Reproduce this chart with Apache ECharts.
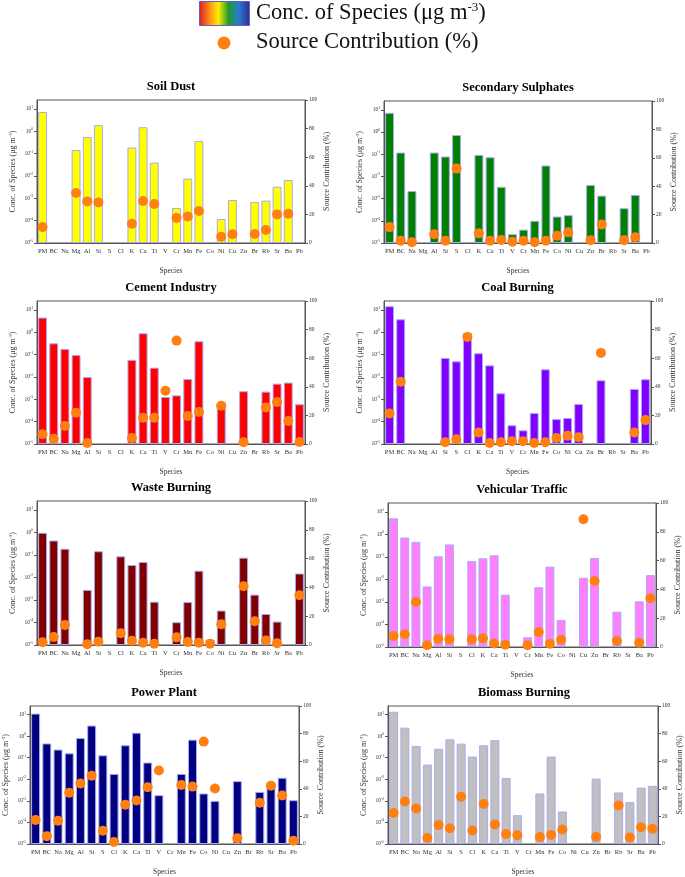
<!DOCTYPE html>
<html>
<head>
<meta charset="utf-8">
<script src="https://cdn.jsdelivr.net/npm/echarts@6/dist/echarts.min.js"></script>
<style>html,body{margin:0;padding:0;background:#fff}#main{width:685px;height:877px}</style>
</head>
<body>
<div id="main"></div>
<script>
// ==================== DATA ====================
const species=['PM','BC','Na','Mg','Al','Si','S','Cl','K','Ca','Ti','V','Cr','Mn','Fe','Co','Ni','Cu','Zn','Br','Rb','Sr','Ba','Pb'];
const sources=['Soil Dust','Secondary Sulphates','Cement Industry','Coal Burning','Waste Burning','Vehicular Traffic','Power Plant','Biomass Burning'];

// concentrations (ug m-3), null = not present
const soilConc=[7.3,null,null,0.146,0.557,1.86,null,null,0.186,1.51,0.0396,null,3.7e-4,7.6e-3,0.369,null,1.19e-4,8.4e-4,null,6.9e-4,7.9e-4,3.3e-3,6.6e-3,null];
const sulConc=[7.3,0.119,2.2e-3,null,0.119,0.0787,0.734,null,0.093,0.073,3.4e-3,2.5e-5,4e-5,1e-4,0.031,1.56e-4,1.8e-4,null,4.1e-3,1.36e-3,null,3.7e-4,1.46e-3,null];
const cemConc=[4.54,0.32,0.18,0.097,0.01,null,null,null,0.058,0.9,0.026,1.27e-3,1.5e-3,8.1e-3,0.395,null,6.6e-4,null,2.3e-3,null,2.2e-3,5e-3,5.6e-3,6e-4];
const coalConc=[14.6,3.8,null,null,null,0.071,0.05,0.93,0.115,0.033,1.86e-3,6.9e-5,4.1e-5,2.44e-4,0.022,1.3e-4,1.46e-4,6.2e-4,null,7.1e-3,null,null,2.9e-3,7.9e-3];
const wasteConc=[0.97,0.44,0.19,null,2.8e-3,0.146,null,0.087,0.036,0.049,8.4e-4,null,1.03e-4,8.1e-4,0.02,1.73e-5,3.4e-4,null,0.076,1.73e-3,2.4e-4,1.1e-4,null,0.015];
const vehConc=[5.2,0.73,0.47,4.9e-3,0.107,0.36,null,0.066,0.087,0.119,2.1e-3,null,2.7e-5,4.5e-3,0.037,1.6e-4,null,0.0119,0.09,null,3.7e-4,null,1.07e-3,0.0156];
const powConc=[11.1,0.46,0.24,0.16,0.82,3.1,0.129,0.0178,0.378,1.45,0.06,1.83e-3,null,0.0178,0.69,2.2e-3,1e-3,null,8.2e-3,null,2.6e-3,6.9e-3,0.0118,1.07e-3];
const bioConc=[13.5,2.47,0.354,0.048,0.262,0.71,0.45,0.113,0.378,0.65,0.0115,2.16e-4,null,2.2e-3,0.113,3.2e-4,null,null,0.0107,null,2.45e-3,8.7e-4,4.1e-3,5e-3];

// source contribution (%)
const soilPct=[11.2,null,null,35,29.1,28.4,null,null,13.5,29.4,27.3,null,17.5,18.6,22.4,null,4.4,6.1,null,6.3,9.1,20,20.5,null];
const sulPct=[11.2,1.6,0.5,null,6.1,1.6,52.4,null,6.8,1.6,2.1,0.9,1.6,0.5,1.6,5.1,7.5,null,1.9,13,null,1.9,4,null];
const cemPct=[6.8,3.7,12.6,21.9,0.7,null,null,null,4.2,18.4,18.4,37.3,72.3,19.6,22.4,null,26.8,null,1.2,null,25.6,29.4,16.1,1.4];
const coalPct=[21.4,43.5,null,null,null,1.2,3.3,74.9,8.1,0.7,1.2,1.9,1.9,0.7,1.2,4.2,5.8,4.7,null,63.7,null,null,8.1,16.7];
const wastePct=[1.9,5.6,13.9,null,0.5,2.3,null,8.1,3,1.6,0.9,null,5.3,2.1,1.6,0.9,14.4,null,40.8,16.5,3.2,1.2,null,34.6];
const vehPct=[7.6,8.8,31.3,1.2,5.8,5.3,null,5.3,6,2.5,1.6,null,1.2,10.4,2.3,5.1,null,88.7,45.8,null,4.2,null,3,33.8];
const powPct=[17.4,5.7,16.9,37.2,43.8,49.5,9.6,1.4,28.5,31.5,41.1,53.2,null,42.7,41.6,74.2,40.2,null,4.1,null,29.9,42.2,35.2,2.3];
const bioPct=[22.4,30.8,25.8,4.3,13.7,11.4,34.2,9.8,29,14.2,7.3,6.4,null,5,6.6,10.5,null,null,5.3,null,27.9,4.8,12.1,11];

const concs=[soilConc,sulConc,cemConc,coalConc,wasteConc,vehConc,powConc,bioConc];
const pcts=[soilPct,sulPct,cemPct,coalPct,wastePct,vehPct,powPct,bioPct];
const barColors=['#ffff00','#008000','#ff0000','#8000ff','#800000','#ff80ff','#000080','#c0c0c0'];

// ==================== LAYOUT ====================
const grids=[
  {left:37,top:100,width:268,height:143},{left:384,top:101,width:268,height:142},
  {left:37,top:301,width:268,height:143},{left:384,top:301,width:267,height:143},
  {left:37,top:501,width:268,height:144},{left:388,top:503,width:268,height:144},
  {left:29,top:706,width:270,height:146},{left:388,top:706,width:272,height:146},
];
const serif='"Liberation Serif","Times New Roman",serif';
const axC='#555', txtC='#333', dotC='#ff8010', edgeC='#aaaaee';

const logFmt=v=>{const l=Math.log10(v), e=Math.round(l); if(Math.abs(l-e)>0.01) return ''; return '10{s|'+e+'}';};

const option={backgroundColor:'#fff',animation:false,title:[],grid:[],xAxis:[],yAxis:[],series:[]};

sources.forEach((name,i)=>{
  const g=grids[i];
  option.grid.push({left:g.left,top:g.top,width:g.width,height:g.height,show:true,borderColor:axC,borderWidth:1});
  option.title.push({text:name,left:g.left+g.width/2,top:g.top-20,textAlign:'center',padding:0,
    textStyle:{fontFamily:serif,fontWeight:'bold',fontSize:12.5,color:'#000'}});
  option.xAxis.push({type:'category',gridIndex:i,data:species,name:'Species',nameLocation:'middle',nameGap:24,
    nameTextStyle:{fontFamily:serif,fontSize:7.5,color:txtC},
    axisLine:{lineStyle:{color:axC}},axisTick:{length:3,lineStyle:{color:axC}},
    axisLabel:{interval:0,fontFamily:serif,fontSize:6.5,color:txtC,margin:5},splitLine:{show:false}});
  option.yAxis.push({type:'log',gridIndex:i,logBase:10,min:1e-5,max:25,interval:1,startValue:1e-5,
    name:'Conc. of Species (μg m{s|-3})',nameLocation:'middle',nameGap:19,
    nameTextStyle:{fontFamily:serif,fontSize:8,color:txtC,rich:{s:{fontFamily:serif,fontSize:5,verticalAlign:'top',padding:[0,0,5,0],color:txtC}}},
    axisLine:{show:true,lineStyle:{color:axC}},axisTick:{show:true,length:3,lineStyle:{color:axC}},
    axisLabel:{formatter:logFmt,showMaxLabel:false,fontFamily:serif,fontSize:5.5,color:txtC,margin:4,
      rich:{s:{fontFamily:serif,fontSize:3.5,verticalAlign:'top',padding:[0,0,4,0],color:txtC}}},
    splitLine:{show:false}});
  option.yAxis.push({type:'value',gridIndex:i,position:'right',min:0,max:100,interval:20,
    name:'Source Contribution (%)',nameLocation:'middle',nameGap:18,
    nameTextStyle:{fontFamily:serif,fontSize:8,color:txtC},
    axisLine:{show:true,lineStyle:{color:axC}},axisTick:{show:true,length:3,lineStyle:{color:axC}},
    axisLabel:{fontFamily:serif,fontSize:5.5,color:txtC,margin:4},splitLine:{show:false}});
  option.series.push({name:'Conc. of Species',type:'bar',xAxisIndex:i,yAxisIndex:2*i,data:concs[i],
    barCategoryGap:'20%',itemStyle:{color:barColors[i],borderColor:edgeC,borderWidth:1}});
  option.series.push({name:'Source Contribution (%)',type:'scatter',xAxisIndex:i,yAxisIndex:2*i+1,data:pcts[i],
    symbolSize:10,z:5,itemStyle:{color:dotC,opacity:1}});
});

// legend drawn as graphic (gradient swatch + dot)
option.graphic=[
  {type:'rect',left:199,top:1,shape:{width:50,height:24},style:{stroke:'#6a5acd',lineWidth:1,
    fill:new echarts.graphic.LinearGradient(0,0,1,0,[
      {offset:0,color:'#d81e1e'},{offset:0.2,color:'#ff8a1a'},{offset:0.38,color:'#ffee00'},
      {offset:0.58,color:'#1e9a2a'},{offset:0.78,color:'#2a7ad0'},{offset:1,color:'#2e2a8a'}])}},
  {type:'circle',shape:{cx:224,cy:43,r:6.5},style:{fill:dotC}},
  {type:'text',left:256,top:1,style:{text:'Conc. of Species (μg m{s|-3})',fontFamily:serif,fontSize:22.5,fill:'#111',
    rich:{s:{fontFamily:serif,fontSize:13,verticalAlign:'top',padding:[0,0,11,0],fill:'#111'}}}},
  {type:'text',left:256,top:31,style:{text:'Source Contribution (%)',fontFamily:serif,fontSize:22.5,fill:'#111'}},
];

const chart=echarts.init(document.getElementById('main'));
chart.setOption(option);
</script>
</body>
</html>
